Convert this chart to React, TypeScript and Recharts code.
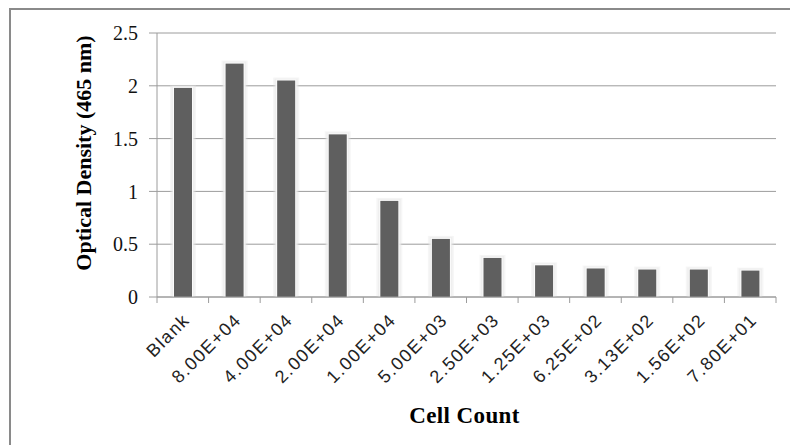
import { BarChart, Bar, XAxis, YAxis, CartesianGrid } from "recharts";

const categories = [
  "Blank",
  "8.00E+04",
  "4.00E+04",
  "2.00E+04",
  "1.00E+04",
  "5.00E+03",
  "2.50E+03",
  "1.25E+03",
  "6.25E+02",
  "3.13E+02",
  "1.56E+02",
  "7.80E+01",
];
const density = [1.98, 2.21, 2.05, 1.54, 0.91, 0.55, 0.37, 0.3, 0.27, 0.26, 0.26, 0.25];
const yTicks = [0, 0.5, 1, 1.5, 2, 2.5];

const W = 790;
const H = 437;
const M = { top: 25, right: 22, left: 0, bottom: 0 };
const Y_W = 149;
const X_H = 148;
const PLOT_W = W - M.right - Y_W;
const BAND = PLOT_W / categories.length;

const data = categories.map((c, i) => ({ name: c, value: density[i] }));

const GRID = "#9c9c9c";

const BarShape = ({ x, y, width, height }: any) => {
  if (!height || height <= 0) return null;
  return (
    <g>
      <rect x={x - 4} y={y - 3} width={width + 8} height={height + 3} fill="#e2e2e2" opacity={0.3} />
      <rect x={x - 2.5} y={y - 2} width={width + 5} height={height + 2} fill="#ececec" opacity={0.7} />
      <rect x={x - 1} y={y - 1} width={width + 2} height={height + 1} fill="#fbfbfb" />
      <rect x={x} y={y} width={width} height={height} fill="#5f5f5f" />
    </g>
  );
};

const XTick = ({ x, y, payload, index }: any) => {
  const last = index === categories.length - 1;
  return (
    <g>
      <line x1={x - BAND / 2} x2={x - BAND / 2} y1={y} y2={y + 6} stroke={GRID} />
      {last && <line x1={x + BAND / 2} x2={x + BAND / 2} y1={y} y2={y + 6} stroke={GRID} />}
      <text
        transform={`translate(${x + 8},${y + 24}) rotate(-45)`}
        textAnchor="end"
        fontFamily="'Liberation Sans', Arial, sans-serif"
        fontSize={18}
        letterSpacing={1.5}
        fill="#222"
      >
        {payload.value}
      </text>
    </g>
  );
};

export default function App() {
  return (
    <div style={{ position: "relative", width: W, height: H }}>
      <div
        style={{
          position: "absolute",
          left: 1,
          top: 0,
          width: W,
          height: H,
          borderTop: "2px solid #8a8a8a",
          borderLeft: "2px solid #8a8a8a",
        }}
      />
      <div style={{ position: "absolute", left: 0, top: 0 }}>
        <BarChart width={W} height={H} data={data} margin={M}>
          <CartesianGrid vertical={false} stroke={GRID} />
          <XAxis
            dataKey="name"
            height={X_H}
            interval={0}
            tickLine={false}
            tickSize={0}
            tickMargin={0}
            axisLine={{ stroke: GRID }}
            tick={<XTick />}
            label={{
              value: "Cell Count",
              position: "insideBottom",
              offset: 22,
              dx: -2,
              style: {
                fontFamily: "'Liberation Serif', 'Times New Roman', serif",
                fontWeight: "bold",
                fontSize: 23,
                letterSpacing: 0.4,
                fill: "#000",
              },
            }}
          />
          <YAxis
            width={Y_W}
            domain={[0, 2.5]}
            ticks={yTicks}
            tickSize={8}
            tickMargin={11}
            axisLine={{ stroke: GRID }}
            tickLine={{ stroke: GRID }}
            tick={{
              fontFamily: "'Liberation Serif', 'Times New Roman', serif",
              fontSize: 20,
              fill: "#111",
            }}
            label={{
              value: "Optical Density (465 nm)",
              angle: -90,
              position: "insideLeft",
              offset: 75,
              dy: -12,
              style: {
                textAnchor: "middle",
                fontFamily: "'Liberation Serif', 'Times New Roman', serif",
                fontWeight: "bold",
                fontSize: 22,
                fill: "#000",
              },
            }}
          />
          <Bar dataKey="value" barSize={18} shape={<BarShape />} isAnimationActive={false} />
        </BarChart>
      </div>
    </div>
  );
}
